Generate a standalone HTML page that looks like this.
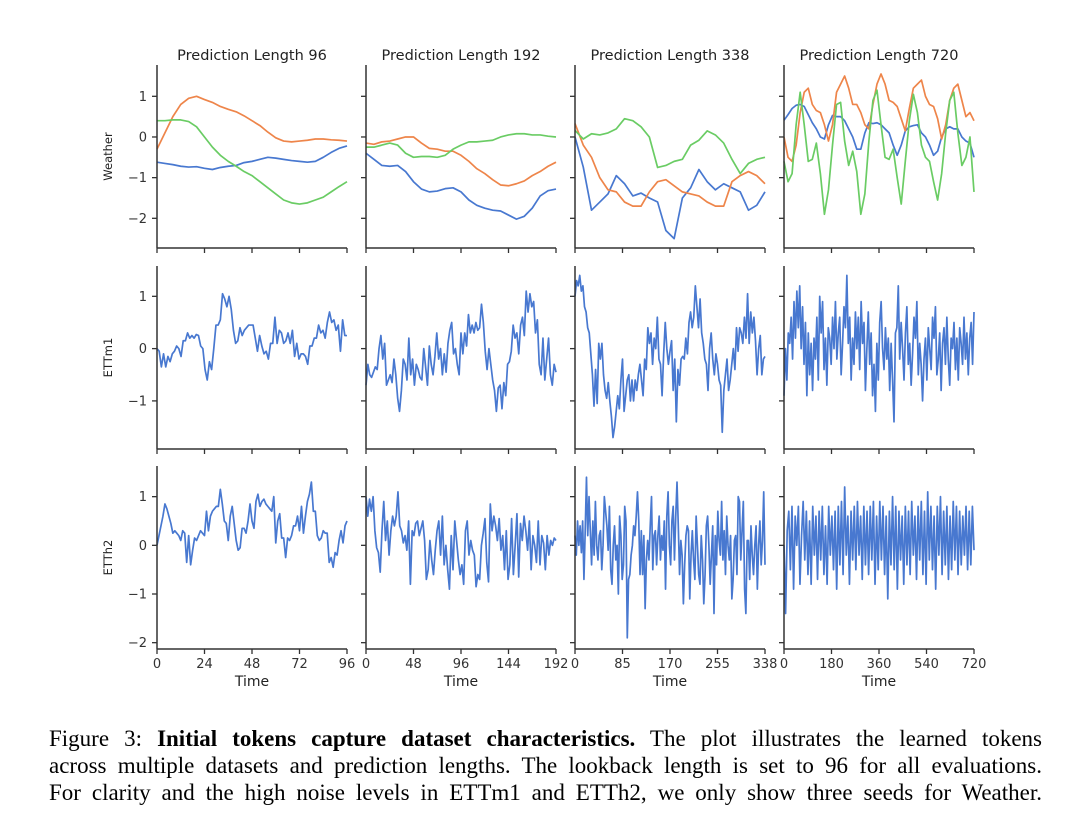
<!DOCTYPE html>
<html><head><meta charset="utf-8"><style>
body{margin:0;background:#fff;width:1080px;height:832px;overflow:hidden;position:relative}
svg{position:absolute;left:0;top:0}
.cap{position:absolute;left:49px;width:993px;font-family:"Liberation Serif",serif;font-size:23px;color:#000;text-align:justify;text-align-last:justify;white-space:nowrap;line-height:27px}
</style></head><body>
<svg id="chart" width="1080" height="700" font-family="DejaVu Sans, Liberation Sans, sans-serif"></svg>
<div class="cap" style="top:725px">Figure 3: <b>Initial tokens capture dataset characteristics.</b> The plot illustrates the learned tokens</div>
<div class="cap" style="top:752px">across multiple datasets and prediction lengths. The lookback length is set to 96 for all evaluations.</div>
<div class="cap" style="top:779px">For clarity and the high noise levels in ETTm1 and ETTh2, we only show three seeds for Weather.</div>
<script>
const colTitles=["Prediction Length 96","Prediction Length 192","Prediction Length 338","Prediction Length 720"];
const rowNames=["Weather","ETTm1","ETTh2"];
const xMax=[96,192,338,720];
const xTickLabels=[["0","24","48","72","96"],["0","48","96","144","192"],["0","85","170","255","338"],["0","180","360","540","720"]];
const yTicks=[[1,0,-1,-2],[1,0,-1],[1,0,-1,-2]];
const yRange=[[-2.73,1.77],[-1.92,1.58],[-2.13,1.63]];

const w96Blue=[-0.62,-0.65,-0.68,-0.72,-0.74,-0.73,-0.77,-0.80,-0.75,-0.72,-0.70,-0.63,-0.6,-0.55,-0.5,-0.52,-0.55,-0.58,-0.6,-0.62,-0.6,-0.5,-0.38,-0.28,-0.22];
const w96Orange=[-0.3,0.1,0.5,0.8,0.95,1.0,0.92,0.85,0.75,0.68,0.62,0.52,0.4,0.28,0.12,-0.02,-0.1,-0.12,-0.1,-0.08,-0.05,-0.05,-0.07,-0.08,-0.1];
const w96Green=[0.4,0.4,0.42,0.42,0.38,0.25,0.0,-0.25,-0.45,-0.6,-0.72,-0.85,-0.95,-1.1,-1.25,-1.4,-1.55,-1.62,-1.65,-1.62,-1.55,-1.48,-1.35,-1.22,-1.1];
const w192Blue=[-0.4,-0.55,-0.7,-0.72,-0.7,-0.85,-1.1,-1.28,-1.35,-1.33,-1.27,-1.25,-1.35,-1.55,-1.68,-1.75,-1.8,-1.82,-1.92,-2.02,-1.95,-1.75,-1.45,-1.32,-1.28];
const w192Orange=[-0.15,-0.18,-0.12,-0.1,-0.05,0.0,0.0,-0.15,-0.28,-0.3,-0.35,-0.35,-0.45,-0.6,-0.78,-0.9,-1.05,-1.18,-1.2,-1.15,-1.08,-0.95,-0.85,-0.72,-0.62];
const w192Green=[-0.25,-0.25,-0.2,-0.15,-0.2,-0.4,-0.5,-0.48,-0.48,-0.5,-0.45,-0.3,-0.2,-0.12,-0.12,-0.1,-0.08,0.0,0.05,0.08,0.08,0.05,0.05,0.02,0.0];
const w338Blue=[0,-0.74,-1.8,-1.6,-1.4,-0.95,-1.15,-1.45,-1.38,-1.5,-1.6,-2.3,-2.5,-1.5,-1.25,-0.8,-1.1,-1.3,-1.15,-1.25,-1.35,-1.8,-1.68,-1.35];
const w338Orange=[0.33,-0.2,-0.5,-1.0,-1.3,-1.35,-1.6,-1.7,-1.7,-1.35,-1.1,-1.05,-1.2,-1.35,-1.4,-1.45,-1.6,-1.7,-1.7,-1.1,-0.95,-0.85,-0.95,-1.15];
const w338Green=[0.16,-0.05,0.08,0.05,0.1,0.2,0.45,0.4,0.25,0.0,-0.75,-0.7,-0.6,-0.55,-0.2,-0.08,0.15,0.05,-0.15,-0.55,-0.9,-0.65,-0.55,-0.5];
const w720Blue=[0.41,0.55,0.7,0.78,0.8,0.75,0.55,0.35,0.2,0.0,-0.05,0.3,0.53,0.5,0.5,0.4,0.2,0.0,-0.3,-0.3,0.1,0.35,0.33,0.35,0.3,0.2,0.1,-0.2,-0.45,-0.2,0.15,0.25,0.28,0.3,0.1,0.0,-0.2,-0.45,-0.35,0.0,0.2,0.25,0.2,0.2,0.0,-0.1,-0.15,-0.5];
const w720Orange=[0.0,-0.5,-0.6,-0.2,0.6,1.1,1.2,0.8,0.65,0.6,0.3,-0.1,0.3,1.1,1.3,1.5,1.2,0.8,0.8,0.6,0.3,0.2,0.8,1.3,1.55,1.3,0.9,0.85,0.75,0.45,0.15,0.7,1.2,1.3,1.4,1.0,0.8,0.75,0.45,-0.05,0.3,0.9,1.2,1.3,0.9,0.5,0.6,0.4];
const w720Green=[-0.6,-1.1,-0.9,0.3,1.1,0.3,-0.6,-0.55,-0.15,-0.9,-1.9,-1.3,-0.2,0.8,0.85,-0.1,-0.7,-0.35,-0.85,-1.9,-1.4,-0.1,0.9,1.15,0.3,-0.5,-0.55,-0.3,-1.0,-1.65,-0.6,0.4,1.05,0.6,-0.2,-0.5,-0.6,-1.1,-1.55,-0.9,0.1,0.9,1.1,0.1,-0.7,-0.5,0.0,-1.35];

const m96=[0,-0.05,-0.35,-0.1,-0.35,-0.15,-0.25,-0.1,-0.05,0.05,0.0,-0.15,0.15,0.15,0.3,0.2,0.25,0.2,0.27,0.25,0.05,0.0,-0.4,-0.6,-0.25,-0.4,0.0,0.45,0.45,0.55,1.05,0.95,0.8,1.0,0.75,0.35,0.1,0.15,0.4,0.25,0.35,0.4,0.45,0.45,0.45,0.2,-0.05,0.25,0.05,-0.1,-0.05,-0.2,0.1,0.1,0.6,0.1,0.35,0.3,0.1,0.15,0.3,0.1,0.35,-0.15,0.1,-0.2,-0.1,-0.1,-0.15,-0.3,0.05,0.05,0.2,0.2,0.45,0.3,0.35,0.2,0.5,0.7,0.5,0.55,0.35,0.45,-0.05,0.55,0.25,0.25];
const m192=[-0.7,-0.3,-0.5,-0.55,-0.45,-0.35,-0.4,0.0,0.25,-0.2,0.1,-0.7,-0.6,-0.5,-0.65,-0.2,-0.5,-0.95,-1.2,-0.8,-0.2,-0.3,-0.6,0.2,-0.5,-0.2,-0.7,-0.3,-0.4,-0.55,-0.6,0.0,-0.35,-0.7,0.05,-0.3,-0.5,-0.15,0.3,-0.2,0.0,-0.5,-0.1,-0.45,0.1,0.35,0.5,-0.1,0.0,-0.3,-0.5,0.3,-0.1,0.3,0.05,0.65,0.3,0.45,0.3,0.5,0.35,0.4,0.85,0.5,-0.05,-0.4,0.0,-0.3,-0.6,-0.8,-1.2,-0.75,-0.7,-1.15,-0.65,-0.9,-0.3,-0.25,-0.05,0.45,0.2,0.3,-0.1,0.45,0.6,0.25,1.1,0.7,1.05,0.8,0.9,0.3,0.55,-0.3,-0.5,0.2,-0.6,-0.2,0.2,-0.5,-0.7,-0.3,-0.45];
const m338=[1.0,1.3,1.2,1.4,1.1,1.2,0.8,0.7,0.4,0.3,-0.1,-0.5,-1.1,-0.4,-1.05,0.1,-0.2,0.1,-0.5,-0.8,-0.95,-0.65,-1.0,-1.3,-1.7,-1.5,-1.2,-0.9,-1.15,-0.6,-0.2,-1.2,-0.9,-0.6,-0.5,-1.0,-0.6,-1.0,-0.6,-0.8,-0.5,-0.3,-0.6,-0.9,-0.2,-0.4,0.4,0.1,0.3,-0.3,0.2,0.0,0.6,-0.2,-0.3,-0.9,-0.1,0.5,0.0,-0.3,-0.05,0.15,-0.8,-0.2,-1.4,-0.4,-0.7,-0.2,-0.15,-0.2,0.2,-0.1,0.5,0.7,0.4,0.6,1.2,0.8,0.4,0.95,0.3,0.1,-0.2,-0.3,-0.8,0.0,0.3,-0.2,-0.5,-0.1,-0.3,-0.6,-0.7,-1.6,-0.8,-0.5,-0.2,-0.8,-0.6,-0.3,0.0,-0.4,0.4,-0.05,0.4,0.3,0.1,0.6,0.2,1.05,0.1,0.7,0.3,0.6,0.15,-0.5,0.0,0.25,-0.5,-0.2,-0.15];
const m720=[-0.9,0.0,-0.6,0.3,0.1,0.6,-0.2,0.9,0.2,1.1,0.4,1.2,0.0,0.8,-0.3,0.5,-0.9,0.3,-0.5,0.1,-0.8,0.2,-0.2,0.6,-0.6,1.0,0.3,0.9,-0.4,0.2,-0.7,0.4,0.2,-0.3,0.6,0.0,0.9,-0.2,0.3,0.6,-0.5,0.1,0.8,0.4,1.4,0.1,0.6,-0.6,0.2,-0.3,0.7,0.0,0.6,-0.4,0.9,0.1,0.5,-0.8,0.0,0.7,-0.3,0.3,-0.9,-0.3,-1.2,0.1,-0.6,0.5,0.9,0.0,-0.4,0.4,-0.2,0.2,-0.8,0.1,-0.6,-1.4,0.3,0.4,1.2,-0.2,0.5,0.0,-0.6,0.3,0.8,-0.3,0.1,-0.7,-0.1,0.6,0.2,0.9,-0.5,0.1,-0.3,-1.0,-0.2,0.2,-0.6,0.4,0.0,-0.4,0.6,0.2,0.8,-0.5,-0.2,0.3,-0.8,0.1,0.4,-0.3,0.6,-0.2,-0.7,0.2,0.0,0.5,-0.4,0.2,-0.6,0.4,0.1,-0.3,0.6,-0.2,0.3,-0.5,0.2,0.5,-0.3,0.7];
const h96=[0.0,0.2,0.4,0.6,0.85,0.75,0.6,0.45,0.25,0.3,0.25,0.2,0.1,0.3,0.25,-0.35,0.2,-0.4,-0.1,0.15,0.1,0.2,0.3,0.25,0.2,0.7,0.3,0.6,0.7,0.75,0.8,0.8,1.15,0.85,0.5,0.45,0.1,0.6,0.8,0.45,0.1,-0.1,-0.05,0.35,0.35,0.25,0.5,0.85,0.5,0.35,0.9,1.05,0.8,0.9,0.95,0.85,0.8,0.75,0.7,1.0,0.05,0.5,0.65,0.15,0.15,-0.25,0.15,0.1,0.2,0.4,0.4,0.6,0.3,0.8,0.25,0.6,0.9,1.05,1.3,0.7,0.7,0.2,0.1,0.15,0.3,0.25,0.25,-0.35,-0.25,-0.45,-0.15,-0.2,0.1,0.3,0.05,0.4,0.5];
const h192=[1.0,0.6,0.95,0.7,1.0,0.3,-0.05,-0.15,-0.55,0.3,0.9,0.1,0.5,-0.2,0.3,0.6,0.4,0.6,1.1,0.4,0.3,0.05,0.2,-0.1,0.5,-0.8,0.3,0.2,0.45,0.5,0.2,0.35,0.5,0.1,-0.7,-0.5,0.1,-0.3,-0.6,-0.1,0.3,0.5,-0.2,0.6,-0.4,0.0,-0.5,-0.9,0.2,-0.5,0.5,0.1,-0.3,-0.6,-0.4,-0.8,0.3,0.5,-0.2,0.1,-0.1,-0.2,-0.85,-0.6,-0.7,0.0,0.25,0.55,-0.35,-0.75,0.85,0.3,0.6,0.4,0.1,0.55,-0.1,0.2,-0.5,0.3,-0.7,-0.4,0.55,-0.6,0.0,0.65,-0.65,0.45,0.1,0.6,0.3,-0.1,0.5,-0.5,0.2,0.0,-0.35,0.5,-0.4,0.2,0.05,-0.5,0.2,-0.2,0.1,0.0,0.15,0.1];
const h338=[0.2,-0.2,0.5,0.0,0.4,-0.15,0.5,-0.7,0.3,1.4,0.2,1.0,0.3,-0.4,0.5,-0.2,0.9,0.0,-0.3,0.2,0.3,-0.5,0.0,1.0,0.7,0.4,-0.1,0.8,-0.5,-0.8,0.0,0.4,-0.3,0.0,-1.0,0.6,0.2,-0.7,-0.4,0.8,0.5,-1.9,-0.7,-0.6,-0.2,0.0,0.4,0.2,0.6,1.1,0.5,-0.6,0.3,-0.6,0.2,-1.3,-0.3,0.1,-0.3,0.4,1.0,-0.5,0.2,0.3,-0.4,0.2,0.6,-0.3,0.2,-0.1,0.5,-0.9,0.6,1.1,0.0,-0.4,0.5,0.8,-0.3,0.6,1.3,0.4,-0.6,0.1,-0.2,-1.2,-0.4,0.2,0.4,0.3,-1.1,-0.2,0.3,-0.3,-0.7,0.6,0.0,-0.6,-0.8,0.2,-0.3,-1.2,-0.6,0.4,0.6,0.0,-0.8,-0.2,0.4,-1.4,0.2,-0.4,0.7,0.1,-0.2,0.9,-0.3,0.3,-0.6,0.6,0.0,-0.3,0.2,-1.1,-0.7,0.1,0.2,-0.6,1.0,0.9,-0.3,0.3,0.9,-0.9,-1.4,0.1,0.1,-0.7,0.4,-0.2,-0.6,0.0,0.4,-0.9,0.0,0.5,-0.4,0.1,1.1,-0.4];
const h720=[0.0,-1.4,0.3,0.7,-0.5,0.8,-0.9,0.6,0.0,0.8,-0.8,0.2,0.9,-0.3,0.7,-0.6,0.5,-0.8,0.8,-0.2,0.6,-0.7,0.7,-0.3,0.8,-0.6,0.4,-0.8,0.8,-0.2,0.6,-0.5,0.7,-0.9,0.8,-0.4,0.9,-0.6,1.2,-0.2,0.6,-0.8,0.7,-0.3,0.8,-0.5,0.9,-0.2,0.6,-0.7,0.8,-0.4,0.7,-0.6,0.8,-0.3,0.9,-0.8,0.6,-0.5,0.9,-0.3,0.8,-0.6,0.6,-1.1,0.7,-0.4,1.0,-0.5,0.8,-0.9,0.7,-0.3,0.6,-0.8,0.8,-0.4,0.7,-0.6,0.9,-0.2,0.6,-0.7,0.8,-0.3,0.9,-0.6,0.7,-0.8,1.1,-0.3,0.8,-0.5,0.6,-0.9,0.8,-0.2,1.0,-0.6,0.7,-0.4,0.8,-0.7,0.6,-0.5,0.9,-0.3,0.8,-0.6,0.7,-0.4,0.6,-0.2,0.8,-0.5,0.7,-0.4,0.8,-0.1];

const colors={blue:"#4878d0",orange:"#ee854a",green:"#6acc64"};
const seriesByPanel=[
 [[w96Blue,"blue"],[w96Orange,"orange"],[w96Green,"green"]],
 [[w192Blue,"blue"],[w192Orange,"orange"],[w192Green,"green"]],
 [[w338Blue,"blue"],[w338Orange,"orange"],[w338Green,"green"]],
 [[w720Blue,"blue"],[w720Orange,"orange"],[w720Green,"green"]],
 [[m96,"blue"]],[[m192,"blue"]],[[m338,"blue"]],[[m720,"blue"]],
 [[h96,"blue"]],[[h192,"blue"]],[[h338,"blue"]],[[h720,"blue"]]
];

const svg=document.getElementById('chart');
const NS="http://www.w3.org/2000/svg";
const colX=[157,366,575,784], PW=190;
const rowTop=[65,266,466], rowBot=[248,449,649];
const ink="#333";
function mk(tag,attrs,parent){const e=document.createElementNS(NS,tag);for(const k in attrs)e.setAttribute(k,attrs[k]);(parent||svg).appendChild(e);return e;}
function xScale(c,t){return colX[c]+t/xMax[c]*PW;}
function yScale(r,v){const [lo,hi]=yRange[r];return rowBot[r]-(v-lo)/(hi-lo)*(rowBot[r]-rowTop[r]);}

for(let r=0;r<3;r++){
 for(let c=0;c<4;c++){
  const g=mk('g',{});
  
  
  seriesByPanel[r*4+c].forEach(([vals,col])=>{
    const n=vals.length;
    const d=vals.map((v,i)=>(i?'L':'M')+xScale(c,i/(n-1)*xMax[c]).toFixed(2)+','+yScale(r,v).toFixed(2)).join('');
    const p=mk('path',{d:d,fill:'none',stroke:colors[col],'stroke-width':1.7,'stroke-linejoin':'round'},g);
    
    
  });
  const ls=mk('line',{x1:colX[c],x2:colX[c],y1:rowTop[r],y2:rowBot[r],stroke:ink,'stroke-width':1.5},g);
  
  
  const bs=mk('line',{x1:colX[c],x2:colX[c]+PW,y1:rowBot[r],y2:rowBot[r],stroke:ink,'stroke-width':1.5},g);
  
  
  yTicks[r].forEach(v=>{
    const y=yScale(r,v);
    mk('line',{x1:colX[c]-5,x2:colX[c],y1:y,y2:y,stroke:ink,'stroke-width':1.3},g);
    if(c===0){
      const t=mk('text',{x:colX[c]-10,y:y+4.5,'text-anchor':'end','font-size':13,fill:ink},g);
      
      
      t.textContent=v<0?'\u2212'+(-v):String(v);
    }
  });
  xTickLabels[c].forEach((lab,i)=>{
    const x=colX[c]+i/4*PW;
    mk('line',{x1:x,x2:x,y1:rowBot[r],y2:rowBot[r]+5,stroke:ink,'stroke-width':1.3},g);
    if(r===2){
      const t=mk('text',{x:x,y:rowBot[r]+19,'text-anchor':'middle','font-size':13,fill:ink},g);
      
      
      t.textContent=lab;
    }
  });
  if(r===0){
    const t=mk('text',{x:colX[c]+PW/2,y:60,'text-anchor':'middle','font-size':14.5,fill:'#222'},g);
    
    
    t.textContent=colTitles[c];
  }
  if(r===2){
    const t=mk('text',{x:colX[c]+PW/2,y:686,'text-anchor':'middle','font-size':14,fill:'#222'},g);
    
    
    t.textContent='Time';
  }
 }
 const cy=(rowTop[r]+rowBot[r])/2;
 const yl=mk('text',{x:0,y:0,transform:'translate(112,'+cy+') rotate(-90)','text-anchor':'middle','font-size':11.5,fill:'#222'});
 
 
 yl.textContent=rowNames[r];
}
</script>
</body></html>
